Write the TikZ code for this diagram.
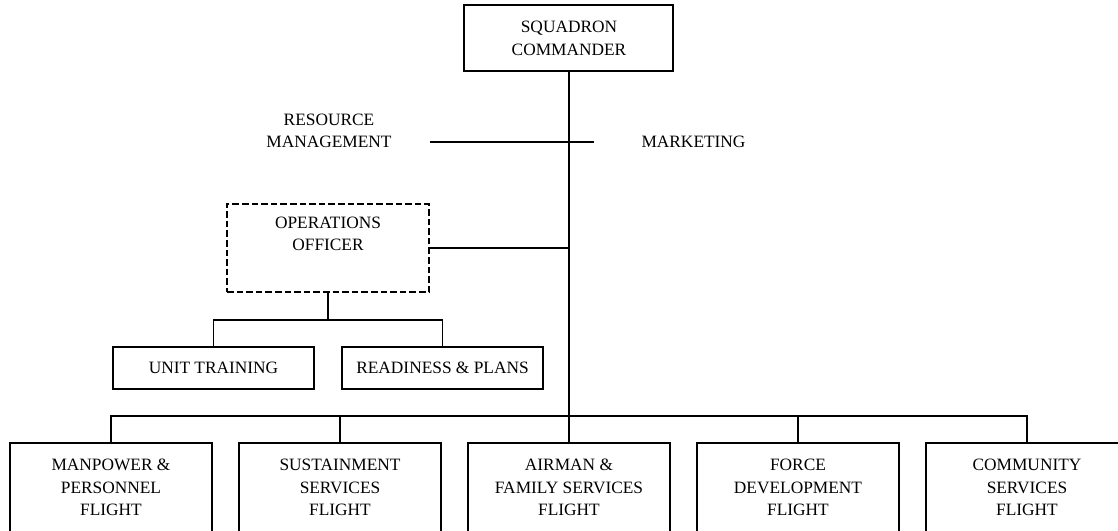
\documentclass[tikz,border=0pt]{standalone}
\usepackage{fontspec}
\setmainfont{Liberation Serif}
\begin{document}
\begin{tikzpicture}[x=0.75pt,y=-0.75pt,
  box/.style={draw,line width=1.3pt,rectangle,inner sep=0pt,outer sep=0pt},
  dbox/.style={box,dash pattern=on 5pt off 2.2pt},
  txt/.style={inner sep=0pt,align=center,font=\fontsize{13}{16.9}\selectfont},
  conn/.style={draw,line width=1.3pt}]
\useasboundingbox (0,0) rectangle (1118,531);
\clip (0,0) rectangle (1118,531);
% top
\node[box,minimum width=156.75pt,minimum height=49.5pt] (cmd) at (568.5,38) {};
\node[txt] (cmdT) at (569,38.5) {SQUADRON\\COMMANDER};
% staff
\node[txt] (rm) at (329,131) {RESOURCE\\MANAGEMENT};
\node[txt] (mk) at (693.5,142) {MARKETING};
\coordinate (rmL) at (430,142);
\coordinate (rmR) at (594,142);
% operations
\node[dbox,minimum width=151.5pt,minimum height=66pt] (ops) at (328,248) {};
\node[txt] (opsT) at (328,234) {OPERATIONS\\OFFICER};
\node[box,minimum width=150.75pt,minimum height=31.5pt,font=\fontsize{13}{16.9}\selectfont] (unit) at (213.5,368) {UNIT TRAINING};
\node[box,minimum width=150.75pt,minimum height=31.5pt,font=\fontsize{13}{16.9}\selectfont] (ready) at (442.5,368) {READINESS \& PLANS};
\coordinate (opsbus) at (328,320);
% flights
\foreach \n/\x in {1/111,2/340,3/569,4/798,5/1027}{
  \node[box,minimum width=151.5pt,minimum height=75pt] (fb\n) at (\x,493) {};
}
\node[txt] (fb1T) at (111,487.5) {MANPOWER \&\\PERSONNEL\\FLIGHT};
\node[txt] (fb2T) at (340,487.5) {SUSTAINMENT\\SERVICES\\FLIGHT};
\node[txt] (fb3T) at (569,487.5) {AIRMAN \&\\FAMILY SERVICES\\FLIGHT};
\node[txt] (fb4T) at (798,487.5) {FORCE\\DEVELOPMENT\\FLIGHT};
\node[txt] (fb5T) at (1027,487.5) {COMMUNITY\\SERVICES\\FLIGHT};
\coordinate (bus) at (569,416);
% connectors
\draw[conn] (cmd.south -| fb3.north) -- (fb3.north);
\draw[conn] (rmL) -- (rmR);
\draw[conn] (ops.east) -- (ops.east -| fb3.north);
\draw[conn] (ops.south) -- (opsbus);
\draw[conn] (unit.north) -- (unit.north |- opsbus) -- (ready.north |- opsbus) -- (ready.north);
\draw[conn] (fb1.north) -- (fb1.north |- bus) -- (fb5.north |- bus) -- (fb5.north);
\draw[conn] (fb2.north) -- (fb2.north |- bus);
\draw[conn] (fb4.north) -- (fb4.north |- bus);
\end{tikzpicture}
\end{document}
